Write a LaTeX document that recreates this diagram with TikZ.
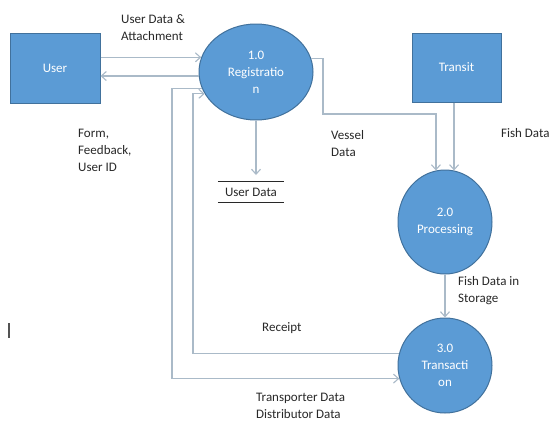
\documentclass[tikz,border=0pt]{standalone}
\usepackage{fontspec}
\setmainfont{Carlito}
\usetikzlibrary{arrows.meta,shapes.geometric}
\definecolor{shapefill}{RGB}{91,155,213}
\definecolor{shapeedge}{RGB}{65,113,156}
\definecolor{flowcol}{RGB}{170,186,200}
\definecolor{txt}{RGB}{40,40,40}
\tikzset{
  entity/.style={rectangle, fill=shapefill, draw=shapeedge, line width=1pt, text=white, font=\fontsize{13}{17}\selectfont, inner sep=0pt},
  proc/.style={ellipse, fill=shapefill, draw=shapeedge, line width=1pt, text=white, align=center, font=\fontsize{13}{17}\selectfont, inner sep=0pt},
  flow/.style={draw=flowcol, line width=1.3pt, -{Straight Barb[length=5pt,width=9pt,line width=1.1pt]}},
  plainline/.style={draw=flowcol, line width=1.3pt},
  lbl/.style={text=txt, align=left, anchor=west, inner sep=0pt, font=\fontsize{13}{17}\selectfont},
}
\begin{document}
\begin{tikzpicture}[x=1pt,y=-1pt]
\useasboundingbox[fill=white] (0,0) rectangle (552,421);
% entities
\node[entity, minimum width=90pt, minimum height=70pt] (user) at (55,68) {User};
\node[entity, minimum width=89pt, minimum height=69pt] (transit) at (456.5,67.5) {Transit};
% processes
\node[proc, minimum width=114pt, minimum height=96pt] (reg) at (256,72) {1.0\\Registratio\\n};
\node[proc, minimum width=94pt, minimum height=104pt] (proc) at (445,222) {2.0\\Processing};
\node[proc, minimum width=94pt, minimum height=95pt] (trans) at (445,365.5) {3.0\\Transacti\\on};
% data store
\node[text=txt, minimum width=66pt, minimum height=20pt, inner sep=0pt, font=\fontsize{13}{17}\selectfont] (store) at (251,192) {User Data};
\draw[line width=1.2pt, draw=txt] (store.north west) -- (store.north east);
\draw[line width=1.2pt, draw=txt] (store.south west) -- (store.south east);
% helper coordinates
\coordinate (rline) at (193,0);
\coordinate (tline) at (172,0);
\coordinate (vbend) at (323,114);
\coordinate (stop) at (256,175);
% flows
\draw[flow] (user.east |- reg.165) -- (reg.165);
\draw[flow] (reg.184) -- (user.east |- reg.184);
\draw[flow] (reg.south) -- (stop);
\draw[flow] (reg.14) -| (vbend) -| (proc.100);
\draw[flow] (transit.south -| proc.80) -- (proc.80);
\draw[flow] (proc.south) -- (trans.north);
\draw[flow] (trans.165) -| (reg.203 -| rline) -- (reg.203);
\draw[flow] (reg.197) -- (reg.197 -| tline) |- (trans.196);
% labels
\node[lbl] (l1) at (121,28) {User Data \&\\Attachment};
\node[lbl] (l2) at (78,150) {Form,\\Feedback,\\User ID};
\node[lbl] (l3) at (331,144) {Vessel\\Data};
\node[lbl] (l4) at (501,133) {Fish Data};
\node[lbl] (l5) at (458,291) {Fish Data in\\Storage};
\node[lbl] (l6) at (262,328) {Receipt};
\node[lbl] (l7) at (256,406) {Transporter Data\\Distributor Data};
\draw[line width=1.2pt, draw=txt!80] (9,323) -- (9,338);
\end{tikzpicture}
\end{document}
